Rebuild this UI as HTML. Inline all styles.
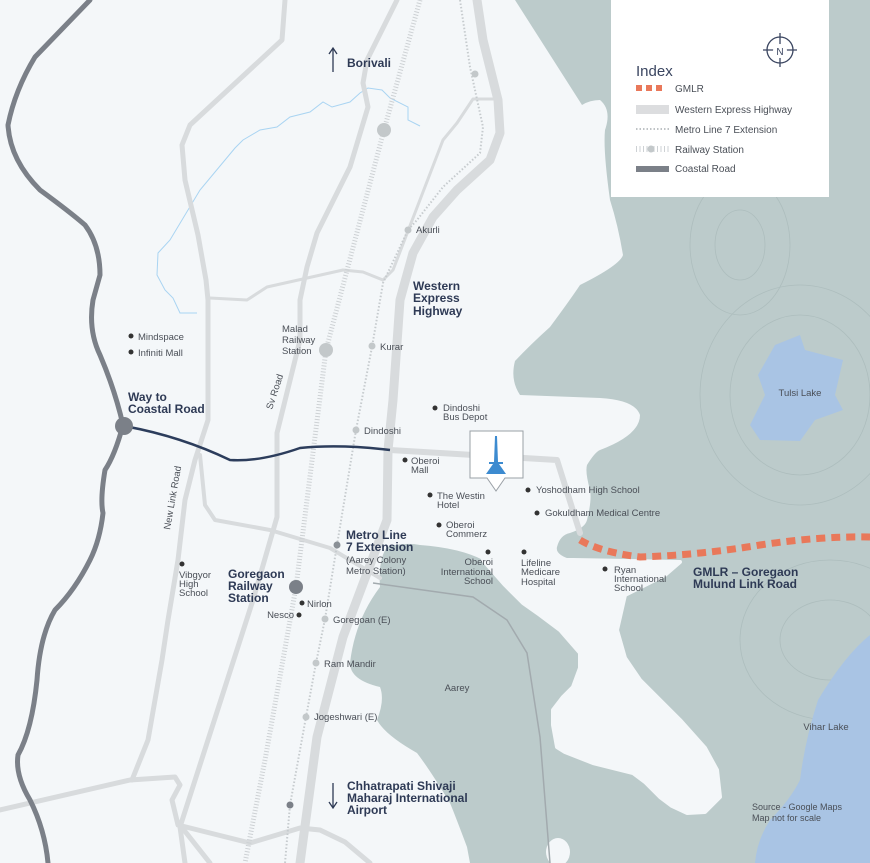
<!DOCTYPE html>
<html><head><meta charset="utf-8"><style>
html,body{margin:0;padding:0;background:#f4f7f9}
svg{display:block}
text{font-family:"Liberation Sans",sans-serif}
.b{font-weight:bold;font-size:12px;fill:#2e3a55}
.s{font-size:9.5px;fill:#4a4f57}
</style></head><body>
<svg width="870" height="863" viewBox="0 0 870 863" xmlns="http://www.w3.org/2000/svg">
<rect width="870" height="863" fill="#f4f7f9"/>
<!-- forest -->
<path fill="#bccbcb" d="M515,0 L870,0 L870,863 L470,863 L467,847 Q455,815 450,803 Q430,770 417,753 Q385,735 377,720 Q385,700 380,687 Q350,680 350,663 Q355,620 380,587 Q378,560 387,547 Q405,542 420,545 Q460,548 483,560 L573,560 Q555,555 557,547 Q560,535 570,533 Q585,528 587,520 Q592,500 590,490 Q585,472 587,465 Q595,452 600,450 Q640,435 640,415 Q635,400 600,398 L520,395 Q510,380 515,361 Q530,345 550,327 Q570,300 580,285 Q620,265 623,255 Q618,225 610,200 Q603,150 605,130 Q612,110 600,100 Q590,100 582,105 Z"/>
<!-- contours -->
<g fill="none" stroke="#a7b8b8" stroke-width="0.8" opacity="0.7">
<ellipse cx="740" cy="245" rx="25" ry="35"/>
<ellipse cx="740" cy="245" rx="50" ry="70"/>
<ellipse cx="800" cy="395" rx="70" ry="80"/>
<ellipse cx="800" cy="395" rx="100" ry="110"/>
<ellipse cx="830" cy="640" rx="50" ry="40"/>
<ellipse cx="830" cy="640" rx="90" ry="80"/>
</g>
<!-- white gap between Aarey and forest -->
<path fill="#f4f7f9" stroke="#f4f7f9" stroke-width="4" stroke-linejoin="round" d="M483,560 L573,560 L680,562 L665,575 L625,595 L617,630 L625,658 L640,680 L680,720 L705,748 L717,770 L720,797 L705,812 L687,813 L672,806 L660,797 L645,782 L633,773 L593,763 L565,752 L557,747 L553,725 L553,710 L563,697 L573,687 L580,668 L580,653 L560,630 L540,615 L523,603 L505,585 Z"/>
<ellipse cx="558" cy="852" rx="12" ry="14" fill="#f4f7f9"/>
<!-- lakes -->
<path fill="#a9c4e4" d="M775,345 L800,335 L805,350 L843,360 L835,395 L843,410 L815,420 L800,441 L760,440 L750,425 L765,395 L758,375 Z"/>
<path fill="#a9c4e4" d="M870,635 Q845,655 818,700 Q805,740 800,780 Q790,800 770,820 Q757,840 755,863 L870,863 Z"/>
<!-- stream -->
<path fill="none" stroke="#a9d4f2" stroke-width="1" d="M420,126 L408,120 L408,107 L390,98 L382,90 L368,88 L360,93 L350,102 L332,107 L323,102 L310,112 L290,117 L277,127 L260,130 L243,140 L235,148 L200,190 L170,240 L158,253 L157,275 L165,290 L173,298 L180,313 L197,313"/>
<!-- light roads -->
<g fill="none" stroke="#d8dbdd" stroke-linecap="round" stroke-linejoin="round">
<path stroke-width="5" d="M285,0 L282,40 L190,125 L182,145 L185,180 L198,235 L206,280 L208,300 L208,420 L195,460 L185,500 L178,560 L168,620 L162,660 L148,740 L132,780"/>
<path stroke-width="4" d="M200,455 L205,505 L215,520 L270,530 L330,548 L380,578"/>
<path stroke-width="5" d="M397,0 L367,60 L363,83 L368,107 L350,167 L317,233 L307,267 L300,300 L300,340 L277,433 L277,517 L253,600 L180,827 L185,863"/>
<path stroke-width="9" d="M477,0 L483,40 L498,100 L500,133 L490,160 L457,190 L433,217 L413,253 L400,300 L393,400 L388,450 L387,520 L343,637 L317,737 L300,863"/>
<path stroke-width="6" d="M390,450 L557,460 L580,533"/>
<path stroke-width="3" d="M497,99 L473,99 L457,123 L443,140 L393,270 L383,280 L363,272 L343,270 L267,287 L247,300 L210,298"/>
<path stroke-width="5" d="M0,810 L130,780 L175,777 L180,785 L172,800 L178,825 L250,843 L300,828 L320,830 L345,842 L370,863"/>
<path stroke-width="5" d="M180,825 L210,863"/>
</g>
<path fill="none" stroke="#a2aaae" stroke-width="1.5" d="M373,583 L473,597 L507,620 L527,653 L540,737 L550,863"/>
<!-- railway -->
<path fill="none" stroke="#cdd1d4" stroke-width="5" stroke-dasharray="1 2" d="M420,0 L384,130 L326,350 L296,587 L265,760 L245,863"/>
<!-- metro -->
<path fill="none" stroke="#c6cbce" stroke-width="2" stroke-dasharray="1.5 2" d="M460,0 L470,67 L483,127 L480,153 L443,187 L417,220 L408,230 L383,283 L372,347 L356,430 L337,545 L325,619 L316,663 L306,717 L290,805 L285,863"/>
<!-- coastal road -->
<path fill="none" stroke="#7b8088" stroke-width="5" stroke-linecap="round" stroke-linejoin="round" d="M90,0 L35,57 Q15,90 8,125 Q10,160 40,190 Q70,212 85,225 Q100,245 100,275 L93,300 Q88,330 100,355 Q115,390 123,425 Q115,455 105,470 Q100,500 103,513 Q100,540 90,560 Q75,590 55,610 Q40,635 37,680 Q32,730 18,755 Q15,775 30,800 Q45,830 48,863"/>
<path fill="none" stroke="#2c3d5c" stroke-width="2.5" d="M124,426 Q180,436 230,460 Q260,462 300,448 Q340,444 390,450"/>
<!-- GMLR -->
<path fill="none" stroke="#e9785a" stroke-width="7" stroke-dasharray="9 6" d="M580,540 Q600,552 640,557 Q700,555 760,545 Q820,536 870,537"/>
<!-- stations -->
<g fill="#c3c8ca">
<circle cx="384" cy="130" r="7"/><circle cx="326" cy="350" r="7"/>
<circle cx="475" cy="74" r="3.5"/><circle cx="408" cy="230" r="3.5"/><circle cx="372" cy="346" r="3.5"/>
<circle cx="356" cy="430" r="3.5"/><circle cx="325" cy="619" r="3.5"/><circle cx="316" cy="663" r="3.5"/><circle cx="306" cy="717" r="3.5"/>
</g>
<circle cx="124" cy="426" r="9" fill="#7b8088"/>
<circle cx="296" cy="587" r="7" fill="#7b8088"/>
<circle cx="337" cy="545" r="3.5" fill="#8a9096"/>
<circle cx="290" cy="805" r="3.5" fill="#7b8088"/>
<g fill="#333">
<circle cx="131" cy="336" r="2.5"/><circle cx="131" cy="352" r="2.5"/><circle cx="435" cy="408" r="2.5"/>
<circle cx="405" cy="460" r="2.5"/><circle cx="430" cy="495" r="2.5"/><circle cx="528" cy="490" r="2.5"/>
<circle cx="537" cy="513" r="2.5"/><circle cx="439" cy="525" r="2.5"/><circle cx="488" cy="552" r="2.5"/>
<circle cx="524" cy="552" r="2.5"/><circle cx="605" cy="569" r="2.5"/><circle cx="182" cy="564" r="2.5"/>
<circle cx="302" cy="603" r="2.5"/><circle cx="299" cy="615" r="2.5"/>
</g>
<!-- marker -->
<path d="M470,431 L523,431 L523,478 L505,478 L496,491 L487,478 L470,478 Z" fill="#fff" stroke="#9aa0a6" stroke-width="1"/>
<path d="M495,436 L497,436 L498,462 L503,462 L503,464 L499,464 L506,474 L486,474 L493,464 L489,464 L489,462 L494,462 Z" fill="#3d8bd0"/>
<!-- labels -->
<path d="M333,72 L333,49 M329,54 L333,48 L337,54" stroke="#2e3a55" stroke-width="1.3" fill="none"/>
<text class="b" x="347" y="67">Borivali</text>
<text class="s" x="416" y="233">Akurli</text>
<text class="b"><tspan x="413" y="290">Western</tspan><tspan x="413" y="302">Express</tspan><tspan x="413" y="315">Highway</tspan></text>
<text class="s"><tspan x="282" y="332">Malad</tspan><tspan x="282" y="343">Railway</tspan><tspan x="282" y="354">Station</tspan></text>
<text class="s" x="380" y="350">Kurar</text>
<text class="s" x="138" y="340">Mindspace</text>
<text class="s" x="138" y="356">Infiniti Mall</text>
<text class="b"><tspan x="128" y="401">Way to</tspan><tspan x="128" y="413">Coastal Road</tspan></text>
<text class="s" transform="translate(272,410) rotate(-72)">Sv Road</text>
<text class="s" transform="translate(170,530) rotate(-80)">New Link Road</text>
<text class="s" x="364" y="434">Dindoshi</text>
<text class="s"><tspan x="443" y="411">Dindoshi</tspan><tspan x="443" y="420">Bus Depot</tspan></text>
<text class="s"><tspan x="411" y="464">Oberoi</tspan><tspan x="411" y="473">Mall</tspan></text>
<text class="s"><tspan x="437" y="499">The Westin</tspan><tspan x="437" y="508">Hotel</tspan></text>
<text class="s" x="536" y="493">Yoshodham High School</text>
<text class="s" x="545" y="516">Gokuldham Medical Centre</text>
<text class="s"><tspan x="446" y="528">Oberoi</tspan><tspan x="446" y="537">Commerz</tspan></text>
<text class="s" text-anchor="end"><tspan x="493" y="565">Oberoi</tspan><tspan x="493" y="575">International</tspan><tspan x="493" y="584">School</tspan></text>
<text class="s"><tspan x="521" y="566">Lifeline</tspan><tspan x="521" y="575">Medicare</tspan><tspan x="521" y="585">Hospital</tspan></text>
<text class="s"><tspan x="614" y="573">Ryan</tspan><tspan x="614" y="582">International</tspan><tspan x="614" y="591">School</tspan></text>
<text class="b"><tspan x="693" y="576">GMLR – Goregaon</tspan><tspan x="693" y="588">Mulund Link Road</tspan></text>
<text class="b"><tspan x="346" y="539">Metro Line</tspan><tspan x="346" y="551">7 Extension</tspan></text>
<text class="s"><tspan x="346" y="563">(Aarey Colony</tspan><tspan x="346" y="574">Metro Station)</tspan></text>
<text class="b"><tspan x="228" y="578">Goregaon</tspan><tspan x="228" y="590">Railway</tspan><tspan x="228" y="602">Station</tspan></text>
<text class="s" x="307" y="607">Nirlon</text>
<text class="s" x="294" y="618" text-anchor="end">Nesco</text>
<text class="s" x="333" y="623">Goregoan (E)</text>
<text class="s" x="324" y="667">Ram Mandir</text>
<text class="s" x="314" y="720">Jogeshwari (E)</text>
<text class="s" x="457" y="691" text-anchor="middle">Aarey</text>
<text class="s"><tspan x="179" y="578">Vibgyor</tspan><tspan x="179" y="587">High</tspan><tspan x="179" y="596">School</tspan></text>
<path d="M333,783 L333,807 M329,802 L333,808 L337,802" stroke="#2e3a55" stroke-width="1.3" fill="none"/>
<text class="b"><tspan x="347" y="790">Chhatrapati Shivaji</tspan><tspan x="347" y="802">Maharaj International</tspan><tspan x="347" y="814">Airport</tspan></text>
<text class="s" x="800" y="396" text-anchor="middle">Tulsi Lake</text>
<text class="s" x="826" y="730" text-anchor="middle">Vihar Lake</text>
<text class="s" style="font-size:9px"><tspan x="752" y="810">Source - Google Maps</tspan><tspan x="752" y="821">Map not for scale</tspan></text>
<!-- legend -->
<rect x="611" y="0" width="218" height="197" fill="#fff"/>
<circle cx="780" cy="50" r="13" fill="none" stroke="#3a4560" stroke-width="1.3"/>
<path d="M780,33 L780,67 M763,50 L797,50" stroke="#3a4560" stroke-width="1.3"/>
<circle cx="780" cy="51" r="7" fill="#fff"/>
<text x="780" y="55" text-anchor="middle" style="font-size:10px;fill:#3a4560">N</text>
<text x="636" y="76" style="font-size:15px;fill:#3a4560">Index</text>
<g fill="#e9785a"><rect x="636" y="85" width="6" height="6"/><rect x="646" y="85" width="6" height="6"/><rect x="656" y="85" width="6" height="6"/></g>
<text class="s" x="675" y="92" style="font-size:10px">GMLR</text>
<rect x="636" y="105" width="33" height="9" fill="#dcdddf"/>
<text class="s" x="675" y="113" style="font-size:10px">Western Express Highway</text>
<path d="M636,129 L669,129" stroke="#bfc3c6" stroke-width="2" stroke-dasharray="1.5 2"/>
<text class="s" x="675" y="133" style="font-size:10px">Metro Line 7 Extension</text>
<path d="M636,149 L669,149" stroke="#cdd1d4" stroke-width="6" stroke-dasharray="1 2.5"/>
<circle cx="651" cy="149" r="3.5" fill="#c3c8ca"/>
<text class="s" x="675" y="153" style="font-size:10px">Railway Station</text>
<rect x="636" y="166" width="33" height="6" fill="#7b8088"/>
<text class="s" x="675" y="172" style="font-size:10px">Coastal Road</text>
</svg>
</body></html>
